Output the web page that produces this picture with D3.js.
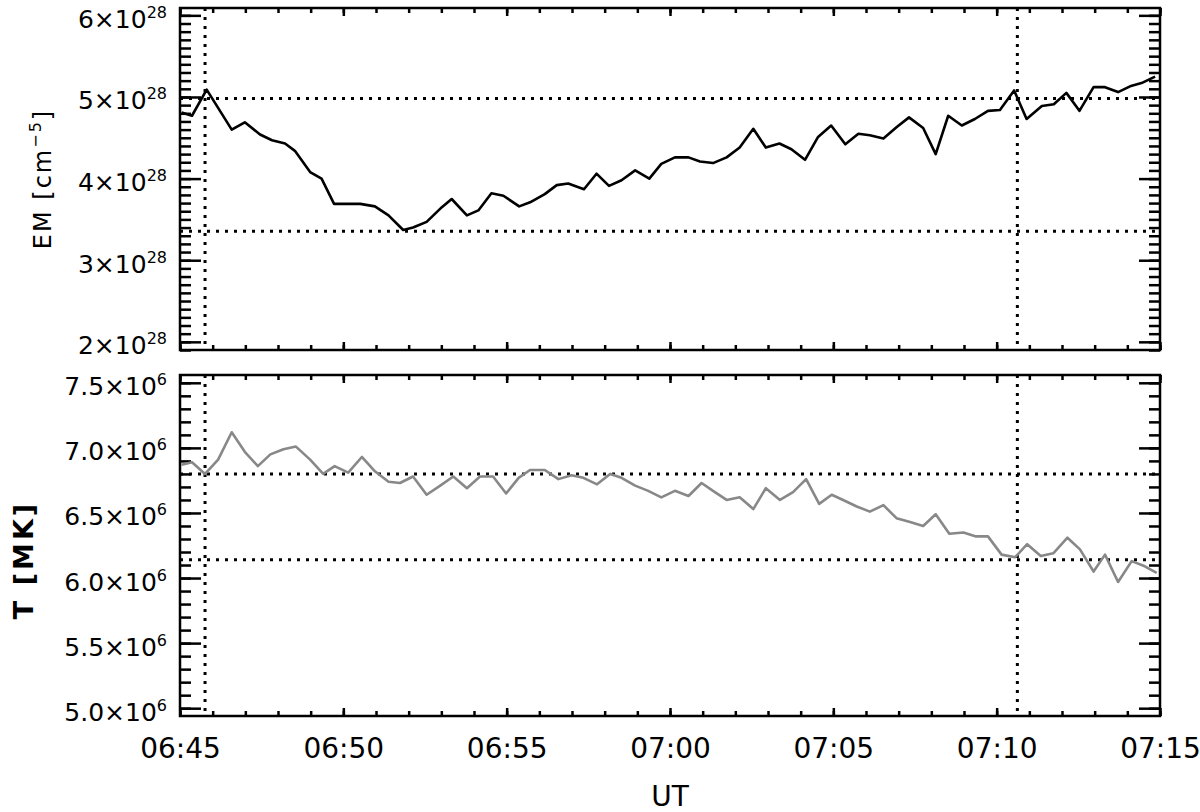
<!DOCTYPE html>
<html>
<head>
<meta charset="utf-8">
<script src="https://cdn.jsdelivr.net/npm/d3@7"></script>
<style>
  html, body { margin: 0; padding: 0; background: #fff; }
  svg { display: block; }
  text { font-family: "DejaVu Sans", "Liberation Sans", Arial, sans-serif; fill: #000; }
</style>
</head>
<body>
<svg id="chart" width="1200" height="812"></svg>
<script>
// ---------------- DATA ----------------
const emTimes = ["06:45:03","06:45:22","06:45:49","06:46:35","06:46:59","06:47:27","06:47:49","06:48:13","06:48:31","06:48:59",
  "06:49:20","06:49:43","06:50:31","06:50:58","06:51:23","06:51:50","06:52:08","06:52:33","06:53:01","06:53:19",
  "06:53:47","06:54:08","06:54:32","06:54:54","06:55:23","06:55:43","06:56:10","06:56:32","06:56:53","06:57:22",
  "06:57:45","06:58:08","06:58:31","06:58:56","06:59:22","06:59:44","07:00:09","07:00:34","07:00:55","07:01:19",
  "07:01:44","07:02:08","07:02:33","07:02:56","07:03:21","07:03:43","07:04:08","07:04:32","07:04:56","07:05:22",
  "07:05:46","07:06:07","07:06:32","07:06:56","07:07:19","07:07:45","07:08:08","07:08:31","07:08:56","07:09:20",
  "07:09:44","07:10:06","07:10:32","07:10:55","07:11:23","07:11:45","07:12:08","07:12:32","07:12:58","07:13:19",
  "07:13:43","07:14:05","07:14:26","07:14:51"];
// EM in units of 1e28 cm^-5
const emValues = [4.81,4.77,5.09,4.60,4.69,4.54,4.47,4.43,4.34,4.08,
  4.00,3.69,3.69,3.66,3.55,3.37,3.40,3.47,3.65,3.75,
  3.55,3.61,3.82,3.79,3.66,3.71,3.81,3.92,3.94,3.87,
  4.06,3.91,3.98,4.10,4.00,4.18,4.26,4.26,4.21,4.19,
  4.26,4.38,4.61,4.38,4.43,4.36,4.23,4.51,4.65,4.42,
  4.55,4.53,4.49,4.63,4.75,4.62,4.30,4.77,4.65,4.73,
  4.83,4.84,5.08,4.73,4.89,4.91,5.05,4.83,5.12,5.12,
  5.06,5.13,5.17,5.25];

const tTimes = ["06:45:03","06:45:22","06:45:46","06:46:10","06:46:35","06:46:59","06:47:23","06:47:46","06:48:10","06:48:33",
  "06:48:59","06:49:23","06:49:44","06:50:09","06:50:34","06:50:58","06:51:23","06:51:44","06:52:08","06:52:33",
  "06:52:58","06:53:22","06:53:47","06:54:11","06:54:35","06:54:59","06:55:22","06:55:43","06:56:10","06:56:35",
  "06:56:59","06:57:21","06:57:46","06:58:10","06:58:31","06:58:56","06:59:20","06:59:44","07:00:09","07:00:34",
  "07:00:58","07:01:19","07:01:44","07:02:08","07:02:33","07:02:56","07:03:22","07:03:46","07:04:10","07:04:34",
  "07:04:57","07:05:18","07:05:43","07:06:07","07:06:32","07:06:56","07:07:21","07:07:45","07:08:08","07:08:33",
  "07:08:59","07:09:22","07:09:44","07:10:09","07:10:34","07:10:56","07:11:21","07:11:44","07:12:10","07:12:33",
  "07:12:58","07:13:19","07:13:43","07:14:08","07:14:32","07:14:54"];
// T in units of 1e6 K
const tValues = [6.87,6.89,6.80,6.91,7.12,6.97,6.86,6.95,6.99,7.01,
  6.91,6.80,6.86,6.81,6.93,6.82,6.74,6.73,6.78,6.64,
  6.71,6.78,6.69,6.78,6.78,6.65,6.77,6.83,6.83,6.76,
  6.79,6.77,6.72,6.80,6.77,6.71,6.67,6.62,6.67,6.63,
  6.73,6.67,6.60,6.62,6.53,6.69,6.60,6.66,6.76,6.57,
  6.64,6.60,6.55,6.51,6.56,6.46,6.43,6.40,6.49,6.34,
  6.35,6.32,6.32,6.18,6.16,6.26,6.17,6.19,6.31,6.22,
  6.05,6.18,5.97,6.13,6.09,6.04];

const xDomainTimes = ["06:45:00", "07:15:00"];
const xTickLabels = ["06:45","06:50","06:55","07:00","07:05","07:10","07:15"];
const vLineTimes = ["06:45:46", "07:10:38"];

const emDomain = [1.9, 6.09];
const emMajorTicks = [2, 3, 4, 5, 6];
const emTickLabels = ["2", "3", "4", "5", "6"];
const emExponent = "28";
const emRefLines = [4.98, 3.355];

const tDomain = [4.94, 7.56];
const tMajorTicks = [5.0, 5.5, 6.0, 6.5, 7.0, 7.5];
const tTickLabels = ["5.0", "5.5", "6.0", "6.5", "7.0", "7.5"];
const tExponent = "6";
const tRefLines = [6.80, 6.14];

// ---------------- LAYOUT ----------------
const parse = d3.timeParse("%H:%M:%S");
const left = 180, right = 1160;
const panels = [
  { top: 8, bottom: 350, times: emTimes, values: emValues, domain: emDomain, majors: emMajorTicks,
    labels: emTickLabels, exp: emExponent, minorStep: 0.1, refs: emRefLines, color: "#000", showX: false },
  { top: 375, bottom: 716, times: tTimes, values: tValues, domain: tDomain, majors: tMajorTicks,
    labels: tTickLabels, exp: tExponent, minorStep: 0.1, refs: tRefLines, color: "#888", showX: true }
];

const svg = d3.select("#chart");
const x = d3.scaleTime().domain(xDomainTimes.map(parse)).range([left, right]);
const xMajor = xTickLabels.map(s => parse(s + ":00"));
const xMinor = d3.timeMinute.range(x.domain()[0], d3.timeMinute.offset(x.domain()[1], 1));

panels.forEach((p, idx) => {
  const y = d3.scaleLinear().domain(p.domain).range([p.bottom, p.top]);
  const g = svg.append("g");
  const clipId = "clip" + idx;
  svg.append("clipPath").attr("id", clipId).append("rect")
    .attr("x", left).attr("y", p.top).attr("width", right - left).attr("height", p.bottom - p.top);

  const minors = d3.range(Math.ceil(p.domain[0] / p.minorStep), Math.floor(p.domain[1] / p.minorStep) + 1)
    .map(i => +(i * p.minorStep).toFixed(3));

  // left axis
  const fmtMap = new Map(p.majors.map((v, i) => [v, p.labels[i]]));
  g.append("g").attr("transform", `translate(${left},0)`)
    .call(d3.axisLeft(y).tickValues(minors).tickSize(-11).tickFormat(""));
  const glm = g.append("g").attr("transform", `translate(${left},0)`)
    .call(d3.axisLeft(y).tickValues(p.majors).tickSize(-21).tickPadding(13).tickFormat(v => fmtMap.get(v)));
  glm.selectAll(".tick text").each(function(v) {
    const t = d3.select(this);
    const lab = fmtMap.get(v);
    t.text(null).attr("dy", "0.48em").style("font-size", "25px");
    t.append("tspan").text(lab + "×10");
    t.append("tspan").attr("dy", "-10").style("font-size", "16px").text(p.exp);
  });
  // right axis
  g.append("g").attr("transform", `translate(${right},0)`)
    .call(d3.axisRight(y).tickValues(minors).tickSize(-11).tickFormat(""));
  g.append("g").attr("transform", `translate(${right},0)`)
    .call(d3.axisRight(y).tickValues(p.majors).tickSize(-21).tickFormat(""));
  // bottom / top axes
  g.append("g").attr("transform", `translate(0,${p.bottom})`)
    .call(d3.axisBottom(x).tickValues(xMinor).tickSize(-5).tickFormat(""));
  const gb = g.append("g").attr("transform", `translate(0,${p.bottom})`)
    .call(d3.axisBottom(x).tickValues(xMajor).tickSize(-8).tickPadding(22)
      .tickFormat((d, i) => p.showX ? xTickLabels[i] : ""));
  gb.selectAll(".tick text").style("font-size", "28px");
  g.append("g").attr("transform", `translate(0,${p.top})`)
    .call(d3.axisTop(x).tickValues(xMinor).tickSize(-5).tickFormat(""));
  g.append("g").attr("transform", `translate(0,${p.top})`)
    .call(d3.axisTop(x).tickValues(xMajor).tickSize(-8).tickFormat(""));

  g.selectAll(".domain").remove();
  g.selectAll(".tick line").attr("stroke", "#000").attr("stroke-width", 2.5);
  g.selectAll(".tick text").attr("fill", "#000").style("font-family", "'DejaVu Sans', 'Liberation Sans', Arial, sans-serif");

  // reference lines (dotted)
  const ref = g.append("g").attr("clip-path", `url(#${clipId})`);
  ref.selectAll("line.h").data(p.refs).join("line").attr("class", "h")
    .attr("x1", left).attr("x2", right).attr("y1", d => y(d)).attr("y2", d => y(d))
    .attr("stroke", "#000").attr("stroke-width", 3).attr("stroke-dasharray", "3 6");
  ref.selectAll("line.v").data(vLineTimes).join("line").attr("class", "v")
    .attr("x1", d => x(parse(d))).attr("x2", d => x(parse(d))).attr("y1", p.top).attr("y2", p.bottom)
    .attr("stroke", "#000").attr("stroke-width", 3).attr("stroke-dasharray", "3 6");

  // data line
  const data = p.times.map((t, i) => ({ t: parse(t), v: p.values[i] }));
  g.append("path").datum(data).attr("clip-path", `url(#${clipId})`)
    .attr("fill", "none").attr("stroke", p.color).attr("stroke-width", 2.6).attr("stroke-linejoin", "round")
    .attr("d", d3.line().x(d => x(d.t)).y(d => y(d.v)));

  // frame
  g.append("rect").attr("x", left).attr("y", p.top).attr("width", right - left).attr("height", p.bottom - p.top)
    .attr("fill", "none").attr("stroke", "#000").attr("stroke-width", 2.5);
});

// axis titles
const emTitle = svg.append("text").attr("transform", "translate(51,179) rotate(-90)")
  .attr("text-anchor", "middle").style("font-size", "24px").style("letter-spacing", "2px");
emTitle.append("tspan").text("EM [cm");
emTitle.append("tspan").attr("dy", "-10").style("font-size", "16px").text("−5");
emTitle.append("tspan").attr("dy", "10").text("]");

svg.append("text").attr("transform", "translate(33,560) rotate(-90)")
  .attr("text-anchor", "middle").style("font-size", "27px").style("font-weight", "bold")
  .style("letter-spacing", "3px").text("T [MK]");

svg.append("text").attr("x", (left + right) / 2).attr("y", 806).attr("text-anchor", "middle")
  .style("font-size", "28px").text("UT");
</script>
</body>
</html>
